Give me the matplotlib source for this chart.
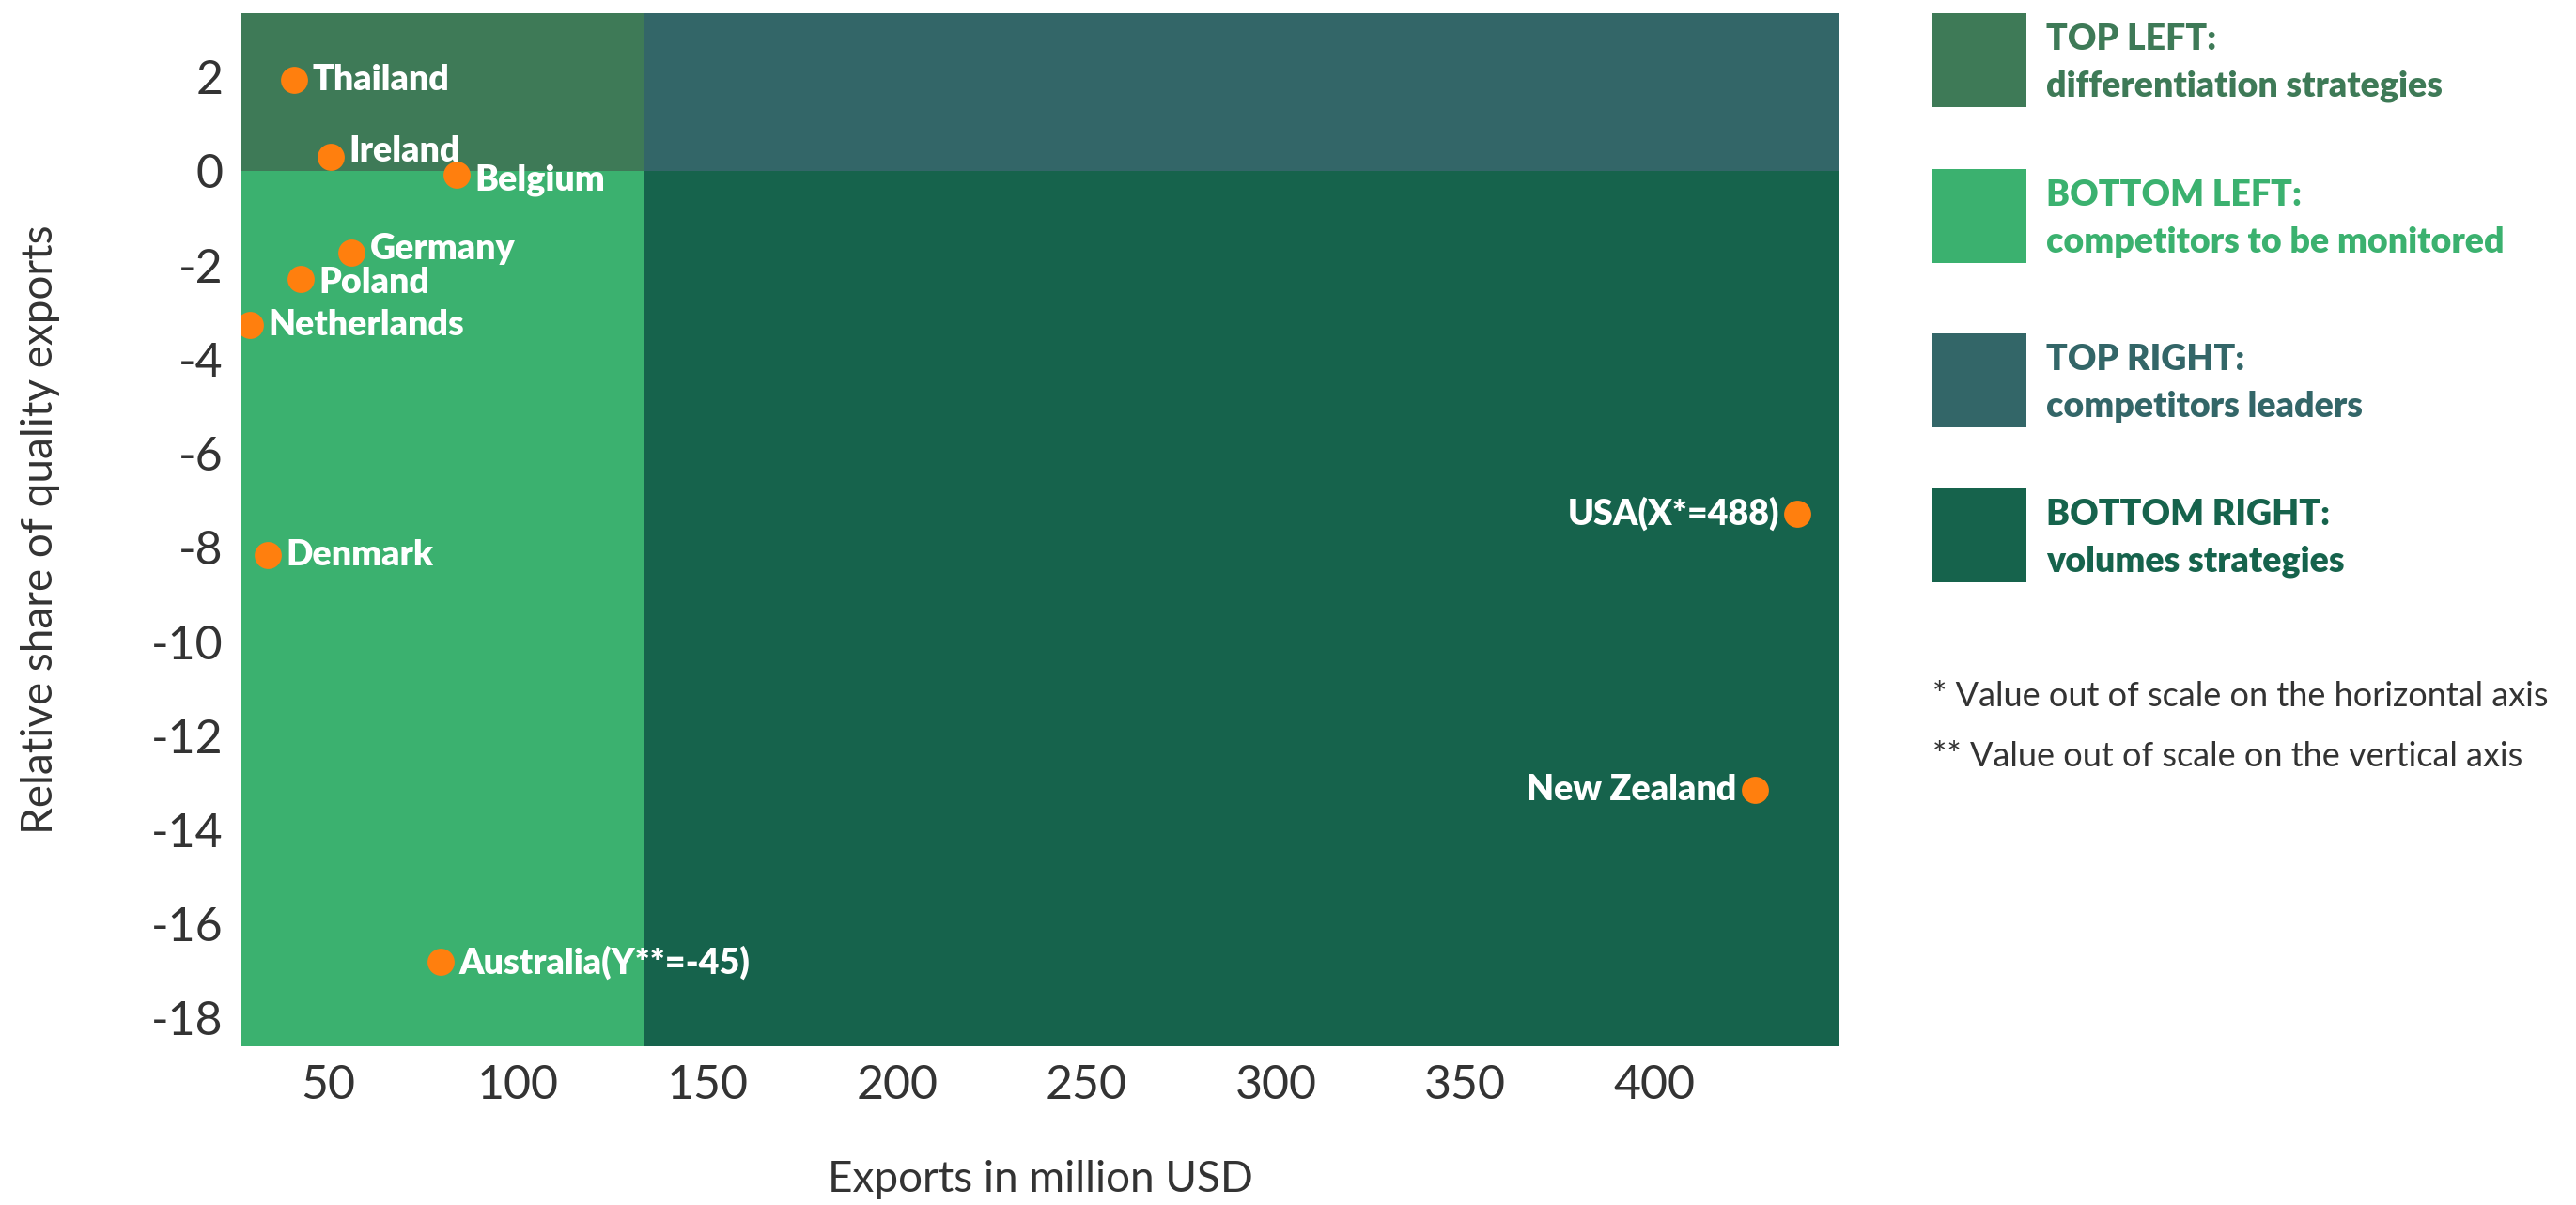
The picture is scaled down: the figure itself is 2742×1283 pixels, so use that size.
import matplotlib.pyplot as plt
from matplotlib.patches import Rectangle

plt.rcParams['font.family'] = ['Lato', 'DejaVu Sans']

# data
countries = ['Thailand', 'Ireland', 'Belgium', 'Germany', 'Poland', 'Netherlands',
             'Denmark', 'Australia(Y**=-45)', 'USA(X*=488)', 'New Zealand']
exports = [40.9, 50.5, 83.9, 56.1, 42.6, 29.2, 34.0, 79.5, 437.7, 426.4]
quality = [1.93, 0.29, -0.09, -1.73, -2.29, -3.27, -8.16, -16.81, -7.28, -13.15]
label_side = ['r', 'r', 'r', 'r', 'r', 'r', 'r', 'r', 'l', 'l']
label_dy = [0, 5, -4, 3, -3, 0, 0, 0, 0, 0]

x_ticks = [50, 100, 150, 200, 250, 300, 350, 400]
y_ticks = [2, 0, -2, -4, -6, -8, -10, -12, -14, -16, -18]
x_lim = (27, 448.5)
y_lim = (-18.6, 3.35)
x_split = 133.5
y_split = 0

quad_names = ['TOP LEFT:', 'BOTTOM LEFT:', 'TOP RIGHT:', 'BOTTOM RIGHT:']
quad_desc = ['differentiation strategies', 'competitors to be monitored',
             'competitors leaders', 'volumes strategies']
quad_colors = ['#3e7a57', '#3bb16f', '#336668', '#16634c']
footnotes = ['* Value out of scale on the horizontal axis',
             '** Value out of scale on the vertical axis']

fig = plt.figure(figsize=(27.42, 12.83), dpi=100)
ax = fig.add_axes([0.0937, 0.1317, 0.62, 0.8573])

ax.set_xlim(*x_lim)
ax.set_ylim(*y_lim)

# quadrant backgrounds
ax.add_patch(Rectangle((x_lim[0], y_split), x_split - x_lim[0], y_lim[1] - y_split,
                       color=quad_colors[0], lw=0, zorder=0))
ax.add_patch(Rectangle((x_lim[0], y_lim[0]), x_split - x_lim[0], y_split - y_lim[0],
                       color=quad_colors[1], lw=0, zorder=0))
ax.add_patch(Rectangle((x_split, y_split), x_lim[1] - x_split, y_lim[1] - y_split,
                       color=quad_colors[2], lw=0, zorder=0))
ax.add_patch(Rectangle((x_split, y_lim[0]), x_lim[1] - x_split, y_split - y_lim[0],
                       color=quad_colors[3], lw=0, zorder=0))

ax.scatter(exports, quality, s=430, color='#ff7f0e', zorder=3, linewidths=0)

for name, x, y, side, dy in zip(countries, exports, quality, label_side, label_dy):
    if side == 'r':
        ax.annotate(name, (x, y), xytext=(14, dy), textcoords='offset points',
                    ha='left', va='center', color='white', fontsize=27, fontweight='heavy')
    else:
        ax.annotate(name, (x, y), xytext=(-14, dy), textcoords='offset points',
                    ha='right', va='center', color='white', fontsize=27, fontweight='heavy')

ax.set_xticks(x_ticks)
ax.set_yticks(y_ticks)
ax.set_yticklabels([str(v) for v in y_ticks])
ax.tick_params(length=0, labelsize=36, labelcolor='#333333', pad=14)
for s in ax.spines.values():
    s.set_visible(False)

ax.set_xlabel('Exports in million USD', fontsize=33, color='#333333', labelpad=40)
ax.set_ylabel('Relative share of quality exports', fontsize=33, color='#333333', labelpad=70)

# legend on the right
W, H = 2742, 1283
box_x = 2057
box_w = 100
box_tops = [14, 180, 355, 520]
for i in range(4):
    top = box_tops[i]
    fig.patches.append(Rectangle((box_x / W, 1 - (top + box_w) / H), box_w / W, box_w / H,
                                 transform=fig.transFigure, color=quad_colors[i], lw=0))
    fig.text(2178 / W, 1 - (top + 28) / H, quad_names[i], fontsize=27, fontweight='heavy',
             color=quad_colors[i], va='center', ha='left')
    fig.text(2178 / W, 1 - (top + 78) / H, quad_desc[i], fontsize=27, fontweight='heavy',
             color=quad_colors[i], va='center', ha='left')

fig.text(2057 / W, 1 - 742 / H, footnotes[0], fontsize=26, color='#333333', va='center')
fig.text(2057 / W, 1 - 805 / H, footnotes[1], fontsize=26, color='#333333', va='center')

fig.savefig('out.png', dpi=100)
